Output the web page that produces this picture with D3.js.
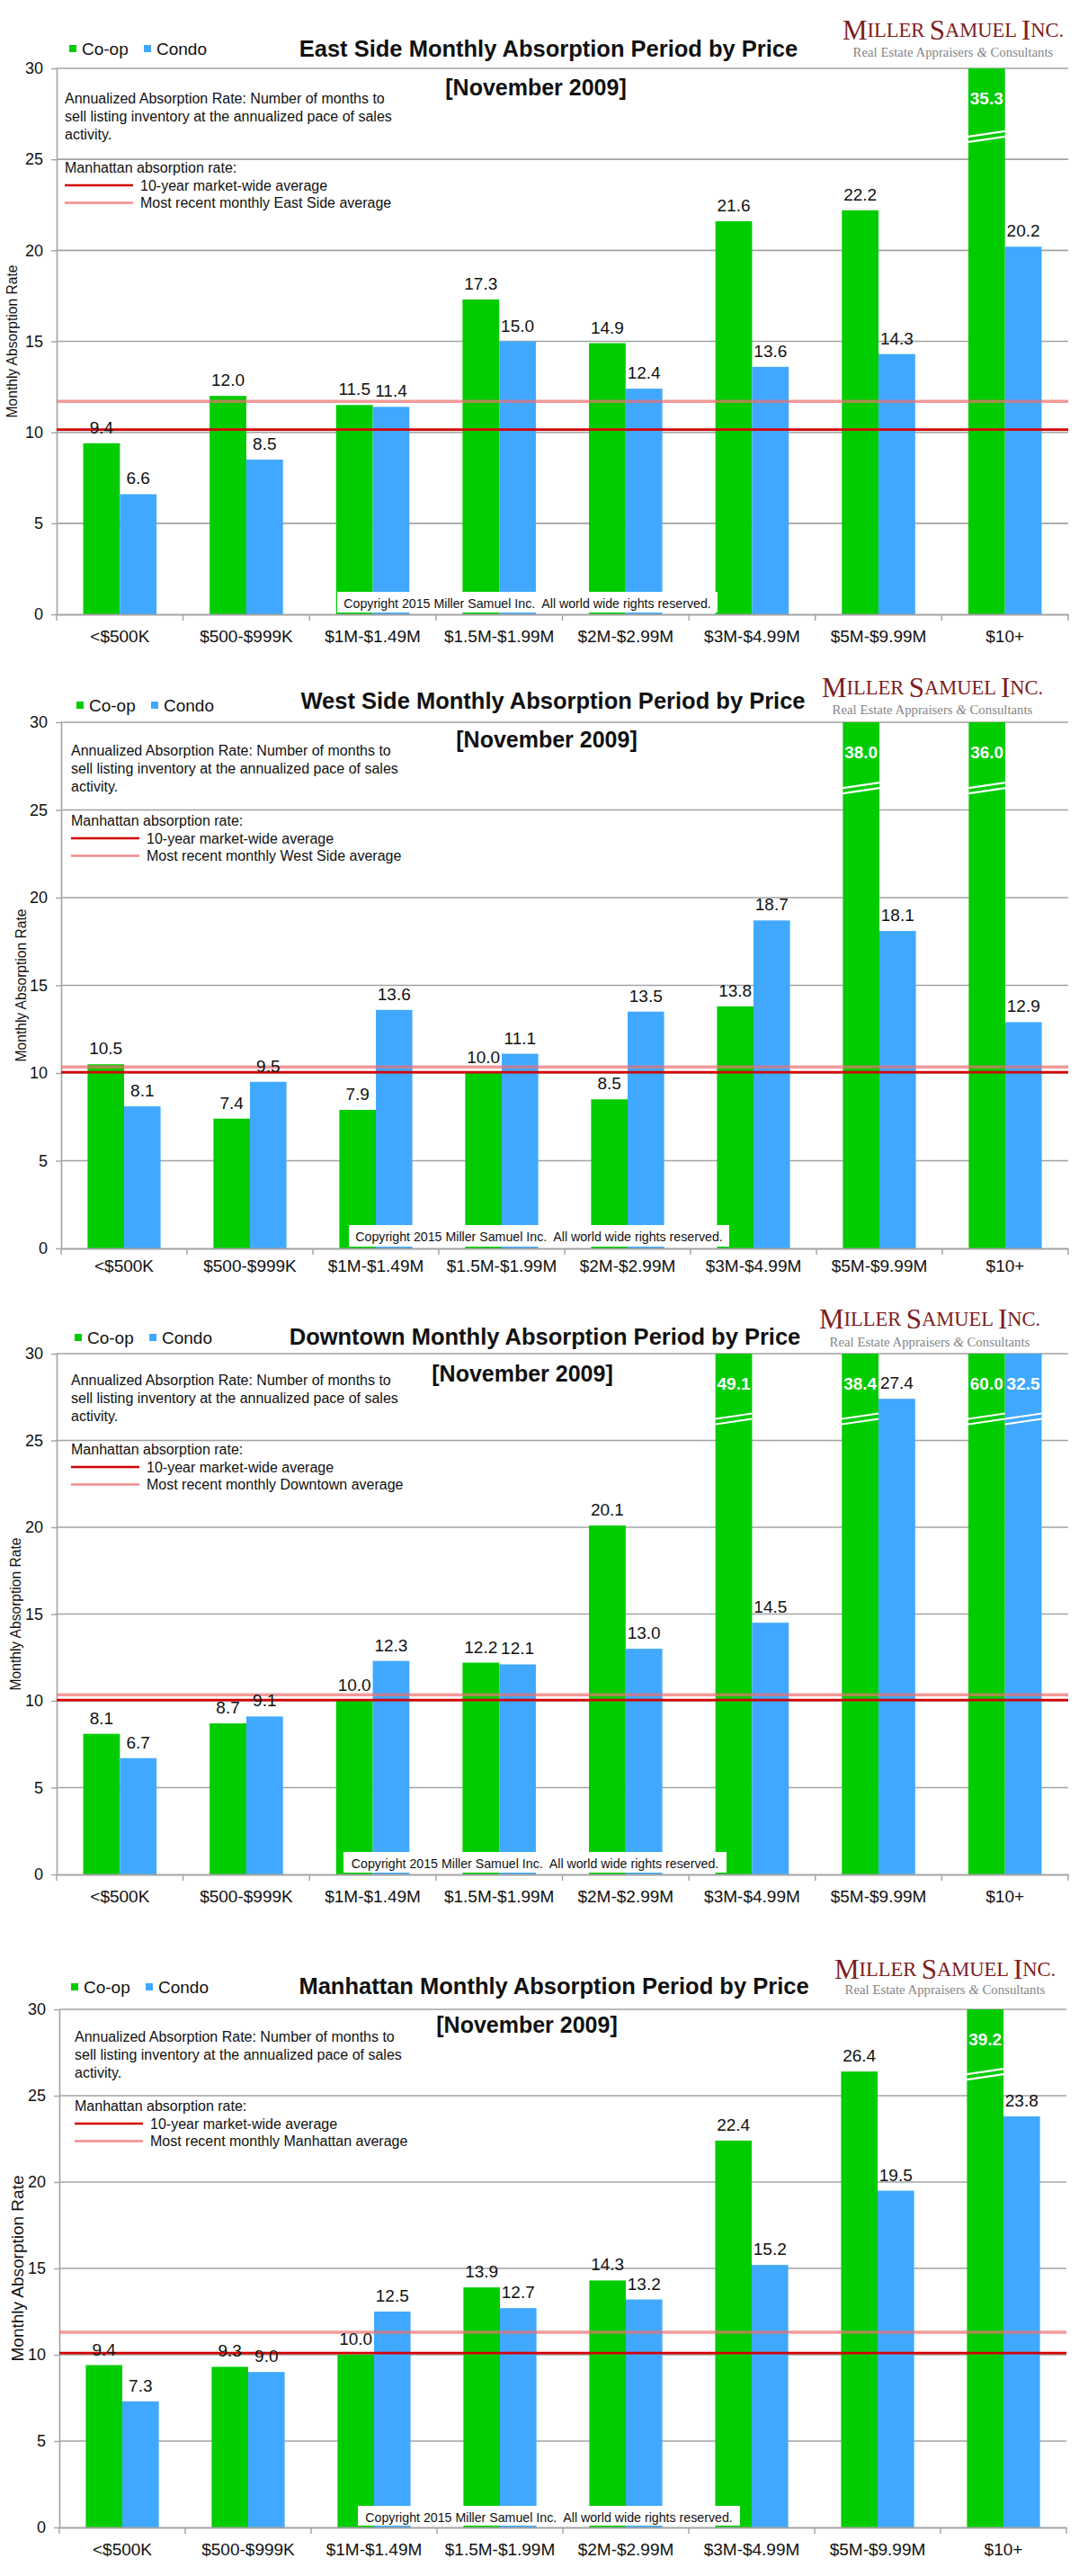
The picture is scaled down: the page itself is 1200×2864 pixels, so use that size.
<!DOCTYPE html>
<html>
<head>
<meta charset="utf-8">
<script src="https://cdn.jsdelivr.net/npm/d3@7"></script>
<style>
  body { margin: 0; background: #fff; }
  text { font-family: "Liberation Sans", Arial, Helvetica, sans-serif; }
  .serif { font-family: "Liberation Serif", "Times New Roman", serif; }
</style>
</head>
<body>
<script>
// ---------- DATA ----------
const categories = ["<$500K", "$500-$999K", "$1M-$1.49M", "$1.5M-$1.99M", "$2M-$2.99M", "$3M-$4.99M", "$5M-$9.99M", "$10+"];
const seriesNames = ["Co-op", "Condo"];
const regions = ["East Side", "West Side", "Downtown", "Manhattan"];

const eastCoop      = [9.4, 12.0, 11.5, 17.3, 14.9, 21.6, 22.2, 35.3];
const eastCondo     = [6.6, 8.5, 11.4, 15.0, 12.4, 13.6, 14.3, 20.2];
const westCoop      = [10.5, 7.4, 7.9, 10.0, 8.5, 13.8, 38.0, 36.0];
const westCondo     = [8.1, 9.5, 13.6, 11.1, 13.5, 18.7, 18.1, 12.9];
const downtownCoop  = [8.1, 8.7, 10.0, 12.2, 20.1, 49.1, 38.4, 60.0];
const downtownCondo = [6.7, 9.1, 12.3, 12.1, 13.0, 14.5, 27.4, 32.5];
const manhattanCoop = [9.4, 9.3, 10.0, 13.9, 14.3, 22.4, 26.4, 39.2];
const manhattanCondo= [7.3, 9.0, 12.5, 12.7, 13.2, 15.2, 19.5, 23.8];

const tenYearAverage = [10.15, 10.05, 10.05, 10.1];
const recentAverage  = [11.7, 10.35, 10.35, 11.3];

const yTicks = [0, 5, 10, 15, 20, 25, 30];
const yMax = 30;
const breakValue = 26.4;
const periodLabel = "[November 2009]";
const noteLines = ["Annualized Absorption Rate: Number of months to",
                   "sell listing inventory at the annualized pace of sales",
                   "activity."];
const copyrightText = "Copyright 2015 Miller Samuel Inc.  All world wide rights reserved.";

const coopSeries  = [eastCoop, westCoop, downtownCoop, manhattanCoop];
const condoSeries = [eastCondo, westCondo, downtownCondo, manhattanCondo];

// ---------- LAYOUT (positions only) ----------
const layouts = [
  {top:76,  bot:683,  left:63, right:1188, yTitleX:13, yTitleSize:15.6, legX:77, legY:54,   titleX:610, titleY:54,   novX:596, novY:97,   noteX:72, noteY:109,  manY:186,  logoX:1060, logoY:33,   subY:58,   cx0:375, cx1:798, cTop:658,  xLabGap:25},
  {top:803, bot:1388, left:68, right:1188, yTitleX:23, yTitleSize:15.6, legX:85, legY:784,  titleX:615, titleY:779,  novX:608, novY:822,  noteX:79, noteY:834,  manY:912,  logoX:1037, logoY:764,  subY:789,  cx0:388, cx1:811, cTop:1362, xLabGap:20},
  {top:1505,bot:2084, left:63, right:1188, yTitleX:17, yTitleSize:15.6, legX:83, legY:1487, titleX:606, titleY:1486, novX:581, novY:1527, noteX:79, noteY:1534, manY:1611, logoX:1034, logoY:1466, subY:1492, cx0:382, cx1:808, cTop:2059, xLabGap:25},
  {top:2234,bot:2810, left:66, right:1186, yTitleX:19, yTitleSize:19,   legX:79, legY:2209, titleX:616, titleY:2208, novX:586, novY:2251, noteX:83, noteY:2264, manY:2341, logoX:1051, logoY:2189, subY:2212, cx0:398, cx1:823, cTop:2786, xLabGap:25}
];

const colors = { "Co-op": "#00cc00", "Condo": "#40a9ff" };
const gridColor = "#a3a3a3";

const svg = d3.select("body").append("svg")
  .attr("width", 1200).attr("height", 2864)
  .attr("viewBox", "0 0 1200 2864");
svg.append("rect").attr("width", 1200).attr("height", 2864).attr("fill", "#fff");

regions.forEach((region, i) => {
  const L = layouts[i];
  const g = svg.append("g");

  const x = d3.scaleBand().domain(categories).range([L.left, L.right])
    .paddingInner(0.42).paddingOuter(0.21);
  const xs = d3.scaleBand().domain(seriesNames).range([0, x.bandwidth()]);
  const y = d3.scaleLinear().domain([0, yMax]).range([L.bot, L.top]);

  // gridlines
  g.append("g").selectAll("line").data(yTicks.filter(d => d > 0)).join("line")
    .attr("x1", L.left).attr("x2", L.right)
    .attr("y1", d => y(d)).attr("y2", d => y(d))
    .attr("stroke", gridColor).attr("stroke-width", 1.6);

  // bars
  const rows = categories.map((c, k) => ({cat: c, vals: [
    {s: "Co-op", v: coopSeries[i][k]}, {s: "Condo", v: condoSeries[i][k]}]}));
  const barData = rows.flatMap(r => r.vals.map(d => ({cat: r.cat, s: d.s, v: d.v})));

  g.append("g").selectAll("rect").data(barData).join("rect")
    .attr("x", d => x(d.cat) + xs(d.s))
    .attr("width", xs.bandwidth())
    .attr("y", d => y(Math.min(d.v, yMax)))
    .attr("height", d => y(0) - y(Math.min(d.v, yMax)))
    .attr("fill", d => colors[d.s]);

  // break marks on clipped bars
  const clipped = barData.filter(d => d.v > yMax);
  const brk = g.append("g");
  [0, 6].forEach(off => {
    brk.selectAll(null).data(clipped).join("line")
      .attr("x1", d => x(d.cat) + xs(d.s))
      .attr("x2", d => x(d.cat) + xs(d.s) + xs.bandwidth())
      .attr("y1", d => y(breakValue) + 3 + off)
      .attr("y2", d => y(breakValue) - 3 + off)
      .attr("stroke", "#fff").attr("stroke-width", 2.2);
  });

  // y axis
  const yAxis = g.append("g").attr("transform", `translate(${L.left},0)`)
    .call(d3.axisLeft(y).tickValues(yTicks).tickSizeInner(6).tickSizeOuter(0).tickPadding(9));
  yAxis.select(".domain").attr("stroke", gridColor).attr("stroke-width", 1.6);
  yAxis.selectAll(".tick line").attr("stroke", gridColor).attr("stroke-width", 1.4);
  yAxis.selectAll(".tick text").attr("font-size", 18).attr("fill", "#111")
    .attr("font-family", "'Liberation Sans', Arial, sans-serif");

  // x axis
  const xAxis = g.append("g").attr("transform", `translate(0,${L.bot})`)
    .call(d3.axisBottom(x).tickSizeInner(0).tickSizeOuter(0).tickPadding(L.xLabGap - 7));
  xAxis.select(".domain").attr("stroke", gridColor).attr("stroke-width", 2);
  xAxis.selectAll(".tick text").attr("font-size", 19).attr("fill", "#111")
    .attr("font-family", "'Liberation Sans', Arial, sans-serif");
  const boundaries = categories.map(c => x(c) - x.paddingOuter() * x.step()).concat([L.right]);
  g.append("g").selectAll("line").data(boundaries).join("line")
    .attr("x1", d => d).attr("x2", d => d)
    .attr("y1", L.bot).attr("y2", L.bot + 7)
    .attr("stroke", gridColor).attr("stroke-width", 1.4);

  // average lines
  g.append("line")
    .attr("x1", L.left).attr("x2", L.right)
    .attr("y1", y(recentAverage[i])).attr("y2", y(recentAverage[i]))
    .attr("stroke", "#ee6f6f").attr("stroke-opacity", 0.7).attr("stroke-width", 3.4);
  g.append("line")
    .attr("x1", L.left).attr("x2", L.right)
    .attr("y1", y(tenYearAverage[i])).attr("y2", y(tenYearAverage[i]))
    .attr("stroke", "#d40000").attr("stroke-width", 2.8);

  // copyright box
  g.append("rect").attr("x", L.cx0).attr("y", L.cTop)
    .attr("width", L.cx1 - L.cx0).attr("height", L.bot - L.cTop - 2)
    .attr("fill", "#fff");
  g.append("text").attr("x", (L.cx0 + L.cx1) / 2).attr("y", L.cTop + 13)
    .attr("text-anchor", "middle").attr("dominant-baseline", "central")
    .attr("font-size", 14.2).attr("fill", "#111").style("white-space", "pre")
    .text(copyrightText);

  // value labels
  g.append("g").selectAll("text").data(barData).join("text")
    .attr("x", d => x(d.cat) + xs(d.s) + xs.bandwidth() / 2)
    .attr("y", d => d.v > yMax ? L.top + 40 : y(d.v) - 11)
    .attr("text-anchor", "middle")
    .attr("font-size", 19)
    .attr("font-weight", d => d.v > yMax ? "bold" : "normal")
    .attr("fill", d => d.v > yMax ? "#fff" : "#111")
    .text(d => d3.format(".1f")(d.v));

  // y axis title
  g.append("text")
    .attr("transform", `translate(${L.yTitleX},${(L.top + L.bot) / 2}) rotate(-90)`)
    .attr("text-anchor", "middle").attr("dominant-baseline", "central")
    .attr("font-size", L.yTitleSize).attr("fill", "#111")
    .text("Monthly Absorption Rate");

  // legend
  seriesNames.forEach((s, k) => {
    const lx = L.legX + k * 83;
    g.append("rect").attr("x", lx).attr("y", L.legY - 4).attr("width", 8).attr("height", 8)
      .attr("fill", colors[s]);
    g.append("text").attr("x", lx + 14).attr("y", L.legY)
      .attr("dominant-baseline", "central").attr("font-size", 19).attr("fill", "#111")
      .text(s);
  });

  // title
  g.append("text").attr("x", L.titleX).attr("y", L.titleY)
    .attr("text-anchor", "middle").attr("dominant-baseline", "central")
    .attr("font-size", 25.5).attr("font-weight", "bold").attr("fill", "#111")
    .text(`${region} Monthly Absorption Period by Price`);
  g.append("text").attr("x", L.novX).attr("y", L.novY)
    .attr("text-anchor", "middle").attr("dominant-baseline", "central")
    .attr("font-size", 25).attr("font-weight", "bold").attr("fill", "#111")
    .text(periodLabel);

  // notes
  noteLines.forEach((t, k) => {
    g.append("text").attr("x", L.noteX).attr("y", L.noteY + k * 20)
      .attr("dominant-baseline", "central").attr("font-size", 16).attr("fill", "#111")
      .text(t);
  });
  g.append("text").attr("x", L.noteX).attr("y", L.manY)
    .attr("dominant-baseline", "central").attr("font-size", 16).attr("fill", "#111")
    .text("Manhattan absorption rate:");
  const legLines = [
    {label: "10-year market-wide average", stroke: "#d40000", op: 1},
    {label: `Most recent monthly ${region} average`, stroke: "#ee6f6f", op: 0.8}
  ];
  legLines.forEach((d, k) => {
    const ly = L.manY + 20 + k * 19.5;
    g.append("line").attr("x1", L.noteX).attr("x2", L.noteX + 76)
      .attr("y1", ly).attr("y2", ly)
      .attr("stroke", d.stroke).attr("stroke-opacity", d.op).attr("stroke-width", 2.4);
    g.append("text").attr("x", L.noteX + 84).attr("y", ly)
      .attr("dominant-baseline", "central").attr("font-size", 16).attr("fill", "#111")
      .text(d.label);
  });

  // logo
  const logo = g.append("text").attr("class", "serif")
    .attr("x", L.logoX).attr("y", L.logoY)
    .attr("text-anchor", "middle").attr("dominant-baseline", "central")
    .attr("fill", "#7d1d1d");
  [["M", 31], ["ILLER ", 22.5], ["S", 31], ["AMUEL ", 22.5], ["I", 31], ["NC.", 22.5]].forEach(([t, fs]) => {
    logo.append("tspan").attr("font-size", fs).text(t);
  });
  const sub = g.append("text").attr("class", "serif")
    .attr("x", L.logoX).attr("y", L.subY)
    .attr("text-anchor", "middle").attr("dominant-baseline", "central")
    .attr("fill", "#858585").attr("font-size", 14.8);
  sub.append("tspan").text("Real Estate Appraisers ");
  sub.append("tspan").attr("font-style", "italic").text("&");
  sub.append("tspan").text(" Consultants");
});
</script>
</body>
</html>
